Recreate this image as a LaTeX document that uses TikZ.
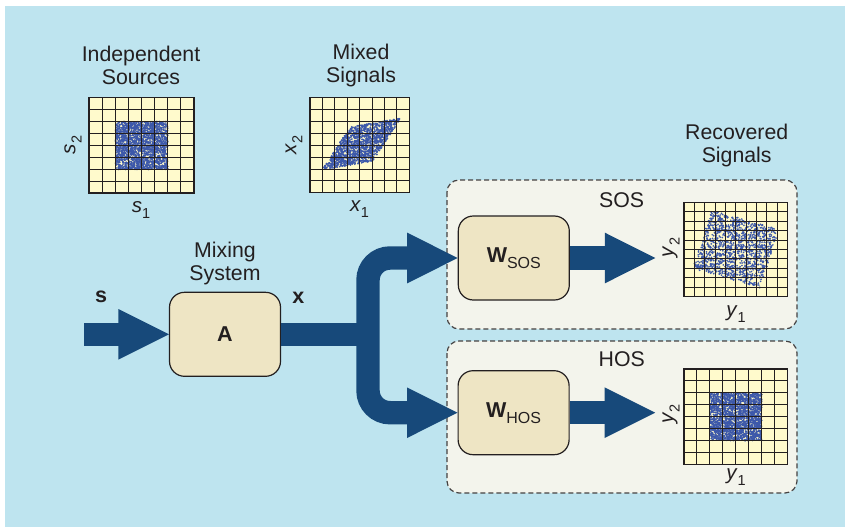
\documentclass[tikz,border=0pt]{standalone}
\usepackage{fontspec}
\setmainfont{Liberation Sans}
\usetikzlibrary{calc}
\definecolor{bgblue}{RGB}{190,228,239}
\definecolor{panel}{RGB}{243,244,236}
\definecolor{beige}{RGB}{238,229,196}
\definecolor{navy}{RGB}{23,73,122}
\definecolor{gridfill}{RGB}{255,250,204}
\definecolor{dotblue}{RGB}{60,88,170}
\definecolor{ink}{RGB}{35,31,32}
\newcommand\vlab[2]{\textit{#1}\raisebox{-0.3em}{\fontsize{14.5}{14.5}\selectfont #2}}
\newcommand\wlab[2]{\textbf{#1}\raisebox{-0.28em}{\fontsize{16}{16}\selectfont\mdseries #2}}
\newcommand\plotgrid[5]{%
  \foreach \k in {0,...,#5} {
    \draw[gridline] ({#1+(#3-#1)*\k/#5},#2) -- ({#1+(#3-#1)*\k/#5},#4);
    \draw[gridline] (#1,{#2+(#4-#2)*\k/#5}) -- (#3,{#2+(#4-#2)*\k/#5});
  }
  \draw[ink, line width=1.5pt] (#1,#2) rectangle (#3,#4);
}
% random dots in the unit square of the current x/y vectors
\newcommand\dotcloud[1]{\foreach \i in {1,...,#1}{\fill[dotblue] (rnd,rnd) circle[radius=0.95pt];}}
\newcommand\headat[1]{\fill[navy] (#1) -- ++(-50.5,25.3) -- ++(0,-50.6) -- cycle;}
\tikzset{
  panelbox/.style={draw=ink!85, fill=panel, line width=1.2pt, dash pattern=on 5pt off 3pt, rounded corners=12pt},
  blockbox/.style={draw=ink, fill=beige, line width=1.2pt, rounded corners=15pt, minimum width=111pt, minimum height=84pt, inner sep=0pt, text=ink, font=\fontsize{21.5}{24}\selectfont\bfseries},
  title/.style={align=center, font=\fontsize{21.3}{23.5}\selectfont, text=ink, inner sep=0pt},
  axlabel/.style={font=\fontsize{20.5}{22}\selectfont, text=ink, inner sep=0pt},
  gridline/.style={draw=ink, line width=0.9pt},
  shaft/.style={draw=navy, line width=23.4pt},
}
\begin{document}
\begin{tikzpicture}[x=1pt, y=-1pt]
\useasboundingbox (0,0) rectangle (845,527);
\fill[white] (0,0) rectangle (845,527);
\fill[bgblue] (5,6) rectangle (845,527);

% panels
\draw[panelbox] (447,180) rectangle (797,329);
\draw[panelbox] (447,341) rectangle (797,493);

\pgfmathsetseed{7}
% Independent sources plot
\fill[gridfill] (89,97.7) rectangle (194,193);
\begin{scope}[shift={(115.5,169.4)}, x={(52.3pt,0pt)}, y={(0pt,47.8pt)}]
  \dotcloud{2100}
\end{scope}
\plotgrid{89}{97.7}{194}{193}{8}

% Mixed signals plot
\fill[gridfill] (310,97.7) rectangle (409.3,192.7);
\begin{scope}[shift={(322,170)}, x={(51pt,9pt)}, y={(28pt,43pt)}]
  \dotcloud{1500}
\end{scope}
\plotgrid{310}{97.7}{409.3}{192.7}{8}

% SOS plot
\fill[gridfill] (684,202.3) rectangle (787.5,296.7);
\begin{scope}[shift={(692.7,268.3)}, x={(67.3pt,-19.4pt)}, y={(19pt,58.3pt)}]
  \dotcloud{1300}
\end{scope}
\plotgrid{684}{202.3}{787.5}{296.7}{10}

% HOS plot
\fill[gridfill] (684,369) rectangle (787.5,464.3);
\begin{scope}[shift={(710,440.5)}, x={(51.7pt,0pt)}, y={(0pt,47.7pt)}]
  \dotcloud{2100}
\end{scope}
\plotgrid{684}{369}{787.5}{464.3}{8}

% blocks
\node[blockbox] (A) at (225,334.3) {A};
\node[blockbox] (wsos) at (513.8,258) {\wlab{W}{SOS}};
\node[blockbox] (whos) at (513.6,412.7) {\wlab{W}{HOS}};

% coordinates
\coordinate (sin) at (84,334.3);
\coordinate (jn) at (368,334.3);
\coordinate (ysos) at ($(wsos.east)+(85.5,0)$);
\coordinate (yhos) at ($(whos.east)+(85.5,0)$);

% big arrows
\draw[shaft] (sin) -- ($(A.west)+(-50,0)$);
\headat{A.west}
\draw[shaft] (A.east) -- (jn);
\draw[shaft, rounded corners=22pt] ($(wsos.west)+(-49.5,0)$) -| (jn) |- ($(whos.west)+(-49.5,0)$);
\headat{wsos.west}
\headat{whos.west}
\draw[shaft] (wsos.east) -- ($(ysos)+(-50,0)$);
\headat{ysos}
\draw[shaft] (whos.east) -- ($(yhos)+(-50,0)$);
\headat{yhos}

% titles
\node[title] (tsrc) at (141,65.5) {Independent\\Sources};
\node[title] (tmix) at (361,65.5) {Mixed\\Signals};
\node[title] (trec) at (736.7,145.5) {Recovered\\Signals};
\node[title] (tsys) at (225,263.5) {Mixing\\System};
\node[title] (tsos) at (621.7,199.7) {SOS};
\node[title] (thos) at (621.7,359.2) {HOS};

% signal labels
\node[axlabel, font=\fontsize{21.5}{22}\selectfont\bfseries] (ls) at (101,297) {s};
\node[axlabel, font=\fontsize{21.5}{22}\selectfont\bfseries] (lx) at (298.3,297.7) {x};

\node[axlabel, rotate=90] (s2) at (73,145) {\vlab{s}{2}};
\node[axlabel] (s1) at (141,209.7) {\vlab{s}{1}};
\node[axlabel, rotate=90] (x2) at (294,145) {\vlab{x}{2}};
\node[axlabel] (x1) at (359.5,209) {\vlab{x}{1}};
\node[axlabel, rotate=90] (y2a) at (671,247.5) {\vlab{y}{2}};
\node[axlabel] (y1a) at (736,314) {\vlab{y}{1}};
\node[axlabel, rotate=90] (y2b) at (671,413.8) {\vlab{y}{2}};
\node[axlabel] (y1b) at (736,477.5) {\vlab{y}{1}};
\end{tikzpicture}
\end{document}
